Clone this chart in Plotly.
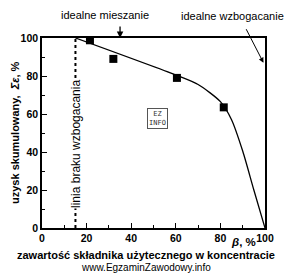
import plotly.graph_objects as go

# data
curve_x = [15, 60, 70, 80, 85, 90, 95, 100]
curve_y = [100, 80.5, 75.5, 66.5, 57, 40.5, 20, 0]
pts_x = [21.5, 32, 60.5, 81.5]
pts_y = [98.8, 89, 79, 63.5]
line_x = [15, 15]
line_y = [0, 100]
x_ticks = [0, 20, 40, 60, 80, 100]
y_ticks = [0, 20, 40, 60, 80, 100]

FONT = "Liberation Sans, Arial, sans-serif"

fig = go.Figure()
fig.add_trace(go.Scatter(x=line_x, y=line_y, mode="lines",
                         line=dict(color="black", width=2, dash="dot"), showlegend=False))
fig.add_trace(go.Scatter(x=curve_x, y=curve_y, mode="lines",
                         line=dict(color="black", width=1.3, shape="spline", smoothing=0.7),
                         showlegend=False))
fig.add_trace(go.Scatter(x=pts_x, y=pts_y, mode="markers",
                         marker=dict(symbol="square", size=8, color="black"), showlegend=False))

axis_common = dict(showgrid=False, zeroline=False, showline=True, linecolor="black",
                   linewidth=1.5, mirror=True, ticks="inside", ticklen=5, tickcolor="black",
                   tickfont=dict(family=FONT, size=10.5, color="black", weight="bold"))
fig.update_xaxes(range=[0, 100], tickvals=x_ticks,
                 ticktext=["0", "20", "40", "60", "80", "100"],
                 minor=dict(ticks="inside", dtick=10, ticklen=3, tickcolor="black"),
                 **axis_common)
fig.update_yaxes(range=[0, 100], tickvals=y_ticks,
                 minor=dict(ticks="inside", dtick=10, ticklen=3, tickcolor="black"),
                 **axis_common)

ann = []
ann.append(dict(text="linia braku wzbogacania", x=15.5, y=44, xref="x", yref="y",
                xanchor="center", yanchor="middle",
                textangle=-90, showarrow=False, bgcolor="white", borderpad=0,
                font=dict(family=FONT, size=12, color="black")))
ann.append(dict(text="idealne mieszanie", x=105, y=15, xref="paper", yref="paper",
                showarrow=False, font=dict(family=FONT, size=11, color="black")))
ann.append(dict(text="idealne wzbogacanie", x=232, y=16, xref="paper", yref="paper",
                showarrow=False, font=dict(family=FONT, size=11, color="black")))
ann.append(dict(text="", x=35, y=100, xref="x", yref="y", showarrow=True,
                ax=0, ay=-13, arrowhead=2, arrowsize=1, arrowwidth=1.3, arrowcolor="black"))
ann.append(dict(text="", x=99.3, y=87, xref="x", yref="y", showarrow=True,
                ax=-18, ay=-35, arrowhead=2, arrowsize=1, arrowwidth=1, arrowcolor="black"))
ann.append(dict(text="<i>β</i>, %", x=243, y=242, xref="paper", yref="paper",
                showarrow=False, font=dict(family=FONT, size=11.5, color="black", weight="bold")))
ann.append(dict(text="zawartość składnika użytecznego w koncentracie", x=146, y=255,
                xref="paper", yref="paper", showarrow=False,
                font=dict(family=FONT, size=11, color="black", weight="bold")))
ann.append(dict(text="www.EgzaminZawodowy.info", x=146, y=267, xref="paper", yref="paper",
                showarrow=False, font=dict(family=FONT, size=10, color="black")))
ann.append(dict(text="uzysk skumulowany,  <i>Σε</i>, %", x=15, y=133, xref="paper",
                yref="paper", textangle=-90, showarrow=False,
                font=dict(family=FONT, size=11, color="black", weight="bold")))
ann.append(dict(text="EZ<br>INFO", x=157, y=118, xref="paper", yref="paper",
                showarrow=False, borderwidth=1, bordercolor="#555", borderpad=1,
                font=dict(family="DejaVu Sans Mono", size=7, color="#333")))

# convert pixel-positioned annotations to paper coords
W, H = 292, 273
L, R, T, B = 42, 27, 38, 45
pw, ph = W - L - R, H - T - B
for a in ann:
    if a.get("xref") == "paper":
        a["x"] = (a["x"] - L) / pw
        a["y"] = 1 - (a["y"] - T) / ph
        a["xanchor"] = "center"
        a["yanchor"] = "middle"

fig.update_layout(width=W, height=H, margin=dict(l=L, r=R, t=T, b=B),
                  paper_bgcolor="white", plot_bgcolor="white", annotations=ann,
                  font=dict(family=FONT))
fig.write_html("out.html")
